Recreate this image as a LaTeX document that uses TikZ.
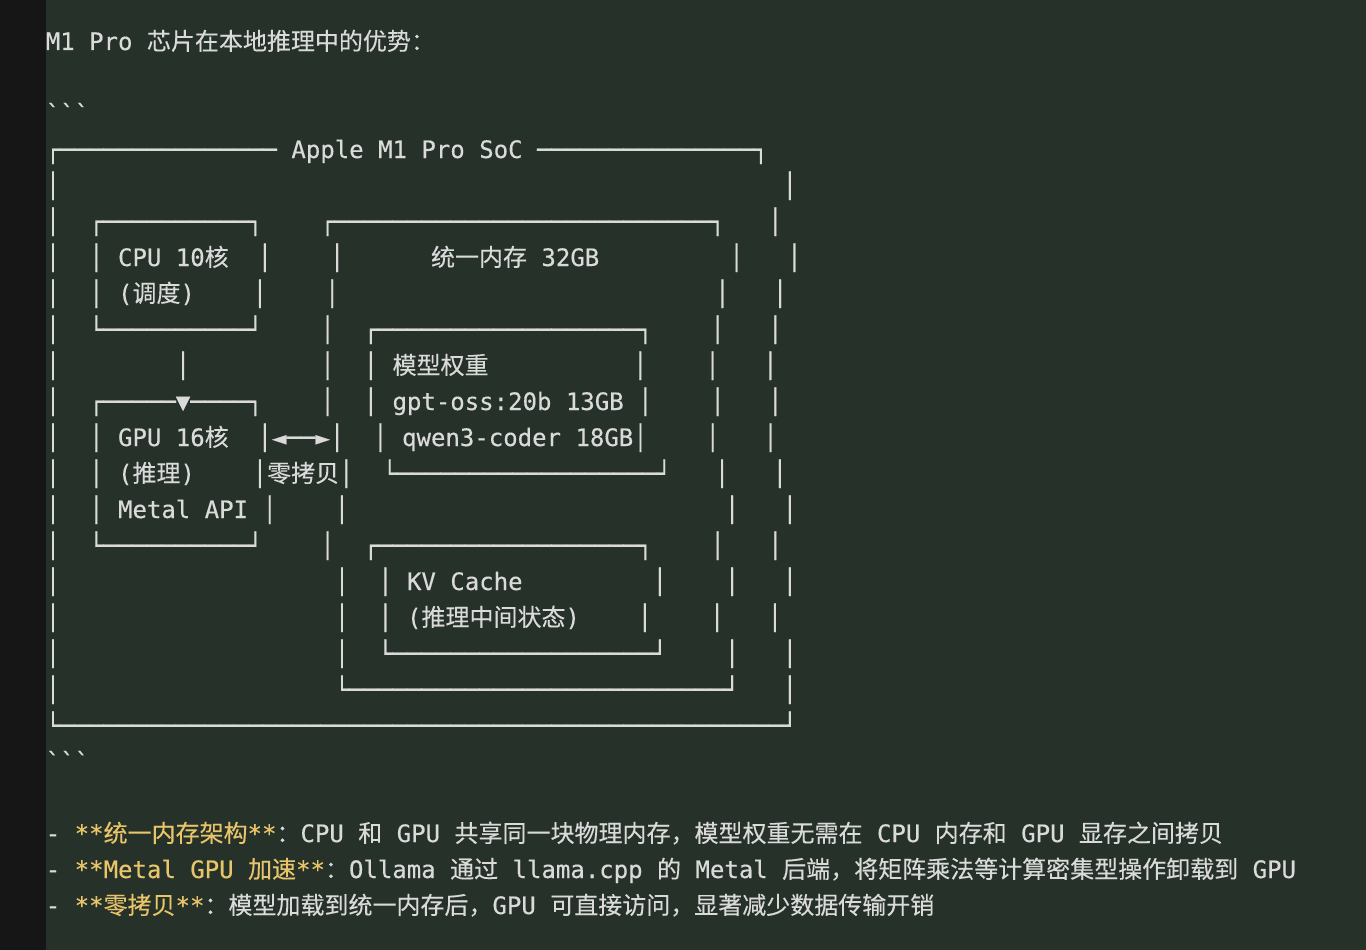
\documentclass[tikz,border=0pt]{standalone}
\usepackage{fontspec}
\setmonofont{DejaVu Sans Mono}[FakeBold=0.35]
\newfontfamily\cjkf{Noto Sans CJK SC}[FakeBold=0.2]
\usepackage{xcolor}
\definecolor{bgc}{HTML}{263129}
\definecolor{stripc}{HTML}{161616}
\definecolor{fgc}{HTML}{DADADA}
\definecolor{yelc}{HTML}{E8C46A}
\newlength\cellw
\setlength\cellw{14.4492pt}
\newcommand\Sp[1]{\hspace*{#1\cellw}}
\ExplSyntaxOn
\NewDocumentCommand\Hl{m}{\prg_replicate:nn{#1}{─}}
\ExplSyntaxOff
\newcommand\ZH[1]{{\cjkf #1}}
\tikzset{
  txtrow/.style={anchor=base west, inner sep=0pt, outer sep=0pt, text=fgc,
    font=\ttfamily\fontsize{24}{36}\selectfont},
  hl/.style={text=yelc}
}
\frenchspacing
\begin{document}
\begin{tikzpicture}[x=1pt,y=-1pt]
\useasboundingbox (0,0) rectangle (1366,950);
\fill[bgc] (0,0) rectangle (1366,950);
\fill[stripc] (0,0) rectangle (46,950);

\node[txtrow] (title) at (45.8,50) {M1 Pro \ZH{芯片在本地推理中的优势：}};
\node[txtrow] (fenceA) at (45.8,122) {```};

\node[txtrow] (r0)  at (45.8,158) {┌\Hl{15} Apple M1 Pro SoC \Hl{15}┐};
\node[txtrow] (r1)  at (45.8,194) {│\Sp{50}│};
\node[txtrow] (r2)  at (45.8,230) {│\Sp{2}┌\Hl{10}┐\Sp{4}┌\Hl{26}┐\Sp{3}│};
\node[txtrow] (r3)  at (45.8,266) {│\Sp{2}│ CPU 10\ZH{核}\Sp{2}│\Sp{4}│\Sp{6}\ZH{统一内存} 32GB\Sp{9}│\Sp{3}│};
\node[txtrow] (r4)  at (45.8,302) {│\Sp{2}│ (\ZH{调度})\Sp{4}│\Sp{4}│\Sp{26}│\Sp{3}│};
\node[txtrow] (r5)  at (45.8,338) {│\Sp{2}└\Hl{10}┘\Sp{4}│\Sp{2}┌\Hl{18}┐\Sp{4}│\Sp{3}│};
\node[txtrow] (r6)  at (45.8,374) {│\Sp{8}│\Sp{9}│\Sp{2}│ \ZH{模型权重}\Sp{10}│\Sp{4}│\Sp{3}│};
\node[txtrow] (r7)  at (45.8,410) {│\Sp{2}┌\Hl{5}▼\Hl{4}┐\Sp{4}│\Sp{2}│ gpt-oss:20b 13GB │\Sp{4}│\Sp{3}│};
\node[txtrow] (r8)  at (45.8,446) {│\Sp{2}│ GPU 16\ZH{核}\Sp{2}│◄──►│\Sp{2}│ qwen3-coder 18GB│\Sp{4}│\Sp{3}│};
\node[txtrow] (r9)  at (45.8,482) {│\Sp{2}│ (\ZH{推理})\Sp{4}│\ZH{零拷贝}│\Sp{2}└\Hl{18}┘\Sp{3}│\Sp{3}│};
\node[txtrow] (r10) at (45.8,518) {│\Sp{2}│ Metal API │\Sp{4}│\Sp{26}│\Sp{3}│};
\node[txtrow] (r11) at (45.8,554) {│\Sp{2}└\Hl{10}┘\Sp{4}│\Sp{2}┌\Hl{18}┐\Sp{4}│\Sp{3}│};
\node[txtrow] (r12) at (45.8,590) {│\Sp{19}│\Sp{2}│ KV Cache\Sp{9}│\Sp{4}│\Sp{3}│};
\node[txtrow] (r13) at (45.8,626) {│\Sp{19}│\Sp{2}│ (\ZH{推理中间状态})\Sp{4}│\Sp{4}│\Sp{3}│};
\node[txtrow] (r14) at (45.8,662) {│\Sp{19}│\Sp{2}└\Hl{18}┘\Sp{4}│\Sp{3}│};
\node[txtrow] (r15) at (45.8,698) {│\Sp{19}└\Hl{26}┘\Sp{3}│};
\node[txtrow] (r16) at (45.8,734) {└\Hl{50}┘};

\node[txtrow] (fenceB) at (45.8,770) {```};

\node[txtrow] (b1) at (45.8,842) {- {\color{yelc}**\ZH{统一内存架构}**}\ZH{：}CPU \ZH{和} GPU \ZH{共享同一块物理内存，模型权重无需在} CPU \ZH{内存和} GPU \ZH{显存之间拷贝}};
\node[txtrow] (b2) at (45.8,878) {- {\color{yelc}**Metal GPU \ZH{加速}**}\ZH{：}Ollama \ZH{通过} llama.cpp \ZH{的} Metal \ZH{后端，将矩阵乘法等计算密集型操作卸载到} GPU};
\node[txtrow] (b3) at (45.8,914) {- {\color{yelc}**\ZH{零拷贝}**}\ZH{：模型加载到统一内存后，}GPU \ZH{可直接访问，显著减少数据传输开销}};
\end{tikzpicture}
\end{document}
